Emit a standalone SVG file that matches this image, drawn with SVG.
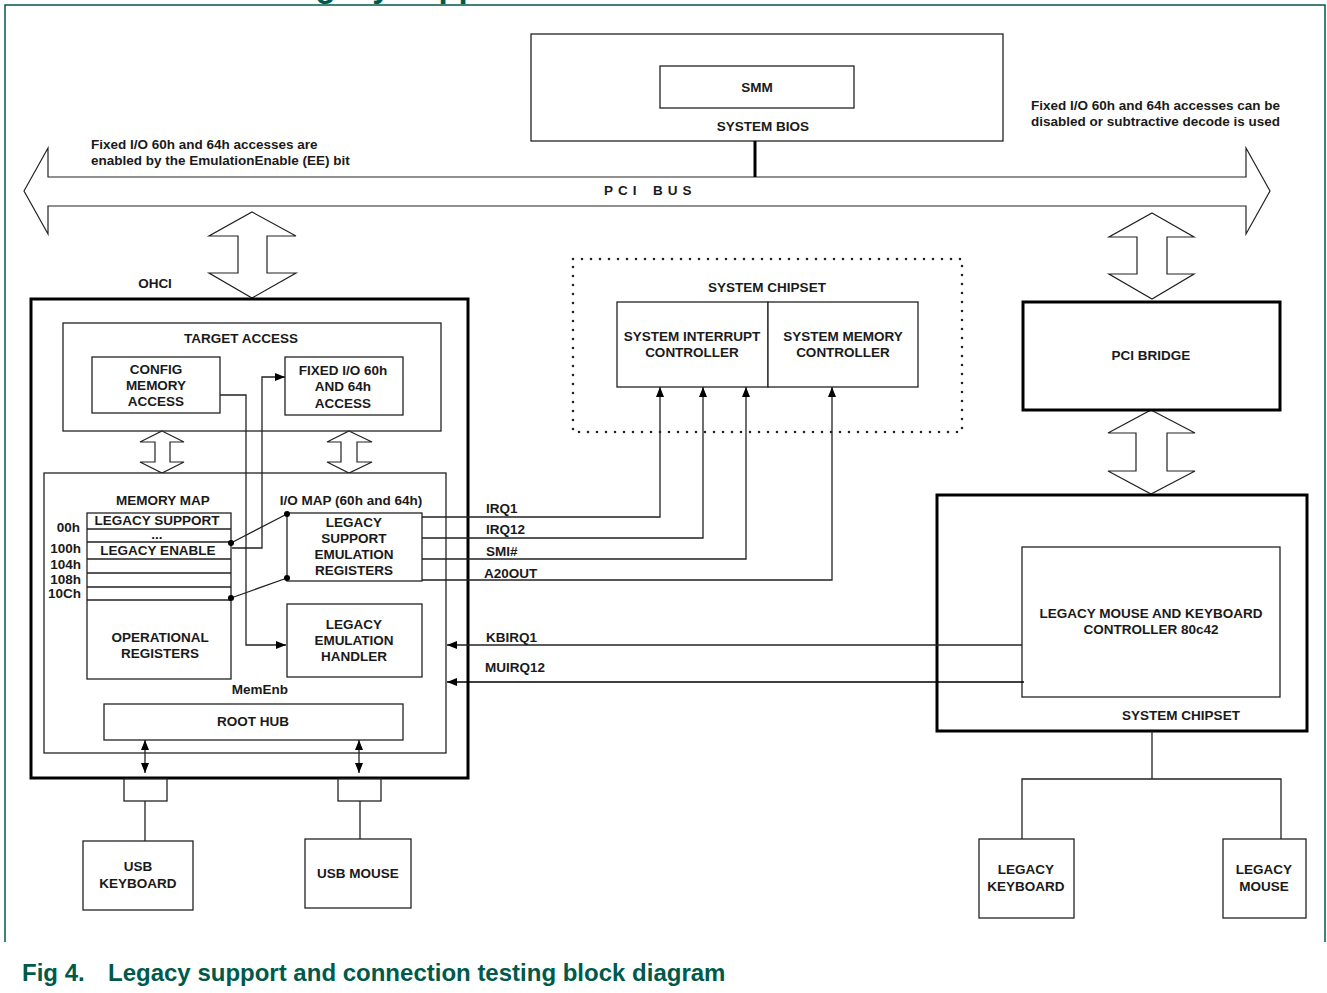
<svg xmlns="http://www.w3.org/2000/svg" width="1327" height="993" viewBox="0 0 1327 993">
<style>
.t{font-family:"Liberation Sans",Arial,sans-serif;font-weight:bold;font-size:13.5px;fill:#1a1a1a}
.m{text-anchor:middle}
.e{text-anchor:end}
.g{font-family:"Liberation Sans",Arial,sans-serif;font-weight:bold;fill:#005a4b}
.box{fill:#fff;stroke:#222;stroke-width:1.3}
.thick{fill:#fff;stroke:#000;stroke-width:3}
.ln{fill:none;stroke:#222;stroke-width:1.3}
.bl{fill:#fff;stroke:#222;stroke-width:1.2}
</style>
<defs>
<marker id="ah" viewBox="0 0 10 8" refX="10" refY="4" markerWidth="10" markerHeight="8" markerUnits="userSpaceOnUse" orient="auto-start-reverse">
<path d="M0,0 L10,4 L0,8 z" fill="#000"/>
</marker>
</defs>
<rect x="0" y="0" width="1327" height="993" fill="#fff"/>
<text class="g" x="277" y="-3" font-size="33">Legacy support</text>
<path d="M5,942 V5 H1325 V942" fill="none" stroke="#005a4b" stroke-width="1.5"/>

<g id="pci-bus">
<polygon class="bl" points="24,191 48,148 48,177 1246,177 1246,148 1270,191 1246,234 1246,206 48,206 48,234"/>
<text class="t" x="604" y="195" letter-spacing="5">PCI</text>
<text class="t" x="653" y="195" letter-spacing="5">BUS</text>
</g>
<g id="note-left">
<text class="t" x="91" y="149">Fixed I/O 60h and 64h accesses are</text>
<text class="t" x="91" y="165">enabled by the EmulationEnable (EE) bit</text>
</g>
<g id="note-right">
<text class="t" x="1031" y="110">Fixed I/O 60h and 64h accesses can be</text>
<text class="t" x="1031" y="126">disabled or subtractive decode is used</text>
</g>

<g id="system-bios">
<rect class="box" x="531" y="34" width="472" height="107"/>
<text class="t m" x="763" y="131">SYSTEM BIOS</text>
</g>
<g id="smm">
<rect class="box" x="660" y="66" width="194" height="42"/>
<text class="t m" x="757" y="92">SMM</text>
</g>

<g id="bus-arrows">
<polygon class="bl" points="252,212 296,236 267,236 267,273 296,273 252,298 209,273 238,273 238,236 209,236"/>
<polygon class="bl" points="1152,213 1194,237 1167,237 1167,274 1194,274 1152,299 1109,274 1137,274 1137,237 1109,237"/>
<polygon class="bl" points="1151,410 1195,433 1167,433 1167,471 1195,471 1151,494 1108,471 1136,471 1136,433 1108,433"/>
</g>

<g id="ohci">
<rect class="thick" x="31" y="299" width="437" height="479"/>
<text class="t m" x="155" y="288">OHCI</text>
</g>
<g id="target-access">
<rect class="box" x="63" y="323" width="378" height="108"/>
<text class="t m" x="241" y="343">TARGET ACCESS</text>
</g>
<g id="config-memory-access">
<rect class="box" x="92" y="357" width="128" height="56"/>
<text class="t m" x="156" y="374">CONFIG</text>
<text class="t m" x="156" y="390">MEMORY</text>
<text class="t m" x="156" y="406">ACCESS</text>
</g>
<g id="fixed-io">
<rect class="box" x="285" y="357" width="118" height="58"/>
<text class="t m" x="343" y="375">FIXED I/O 60h</text>
<text class="t m" x="343" y="391">AND 64h</text>
<text class="t m" x="343" y="408">ACCESS</text>
</g>
<g id="small-arrows">
<polygon class="bl" points="162,431 184,442 170,442 170,462 184,462 162,473 140,462 155,462 155,442 140,442"/>
<polygon class="bl" points="349,431 372,442 357,442 357,462 372,462 349,473 327,462 341,462 341,442 327,442"/>
</g>
<g id="ohci-core">
<rect class="box" x="44" y="473" width="402" height="280"/>
<text class="t m" x="163" y="505">MEMORY MAP</text>
<text class="t m" x="351" y="505">I/O MAP (60h and 64h)</text>
<text class="t m" x="260" y="694">MemEnb</text>
</g>
<g id="memory-map">
<rect class="box" x="87" y="513" width="144" height="166"/>
<path class="ln" d="M87,529 H231 M87,542 H231 M87,559 H231 M87,573 H231 M87,587 H231 M87,600 H231"/>
<text class="t m" x="157" y="525">LEGACY SUPPORT</text>
<text class="t m" x="157" y="539" font-size="11">...</text>
<text class="t m" x="158" y="555">LEGACY ENABLE</text>
<text class="t e" x="80" y="532">00h</text>
<text class="t e" x="81" y="553">100h</text>
<text class="t e" x="81" y="569">104h</text>
<text class="t e" x="81" y="584">108h</text>
<text class="t e" x="81" y="598">10Ch</text>
<text class="t m" x="160" y="642">OPERATIONAL</text>
<text class="t m" x="160" y="658">REGISTERS</text>
</g>
<g id="legacy-support-regs">
<rect class="box" x="287" y="513" width="135" height="68"/>
<text class="t m" x="354" y="527">LEGACY</text>
<text class="t m" x="354" y="543">SUPPORT</text>
<text class="t m" x="354" y="559">EMULATION</text>
<text class="t m" x="354" y="575">REGISTERS</text>
</g>
<g id="legacy-emulation-handler">
<rect class="box" x="287" y="604" width="135" height="73"/>
<text class="t m" x="354" y="629">LEGACY</text>
<text class="t m" x="354" y="645">EMULATION</text>
<text class="t m" x="354" y="661">HANDLER</text>
</g>
<g id="root-hub">
<rect class="box" x="104" y="704" width="299" height="36"/>
<text class="t m" x="253" y="726">ROOT HUB</text>
</g>
<g id="ports">
<rect class="box" x="124" y="779" width="43" height="22"/>
<rect class="box" x="338" y="779" width="43" height="22"/>
</g>
<g id="usb-keyboard">
<rect class="box" x="83" y="841" width="110" height="69"/>
<text class="t m" x="138" y="871">USB</text>
<text class="t m" x="138" y="888">KEYBOARD</text>
</g>
<g id="usb-mouse">
<rect class="box" x="305" y="839" width="106" height="69"/>
<text class="t m" x="358" y="878">USB MOUSE</text>
</g>

<g id="system-chipset-top">
<rect x="573" y="259" width="389" height="173" fill="none" stroke="#222" stroke-width="2.6" stroke-dasharray="0 9" stroke-linecap="round"/>
<text class="t m" x="767" y="292">SYSTEM CHIPSET</text>
</g>
<g id="interrupt-controller">
<rect class="box" x="617" y="302" width="151" height="85"/>
<text class="t m" x="692" y="341">SYSTEM INTERRUPT</text>
<text class="t m" x="692" y="357">CONTROLLER</text>
</g>
<g id="memory-controller">
<rect class="box" x="768" y="302" width="150" height="85"/>
<text class="t m" x="843" y="341">SYSTEM MEMORY</text>
<text class="t m" x="843" y="357">CONTROLLER</text>
</g>

<g id="pci-bridge">
<rect class="thick" x="1023" y="302" width="257" height="108"/>
<text class="t m" x="1151" y="360">PCI BRIDGE</text>
</g>
<g id="system-chipset-right">
<rect class="thick" x="937" y="495" width="370" height="236"/>
<text class="t m" x="1181" y="720">SYSTEM CHIPSET</text>
</g>
<g id="kbc-80c42">
<rect class="box" x="1022" y="547" width="258" height="150"/>
<text class="t m" x="1151" y="618">LEGACY MOUSE AND KEYBOARD</text>
<text class="t m" x="1151" y="634">CONTROLLER 80c42</text>
</g>
<g id="legacy-keyboard">
<rect class="box" x="979" y="839" width="95" height="79"/>
<text class="t m" x="1026" y="874">LEGACY</text>
<text class="t m" x="1026" y="891">KEYBOARD</text>
</g>
<g id="legacy-mouse">
<rect class="box" x="1223" y="839" width="83" height="79"/>
<text class="t m" x="1264" y="874">LEGACY</text>
<text class="t m" x="1264" y="891">MOUSE</text>
</g>

<g id="connectors">
<line x1="755" y1="141" x2="755" y2="177" stroke="#000" stroke-width="3"/>
<polyline class="ln" points="220,395 246,395 246,645 286,645" marker-end="url(#ah)"/>
<polyline class="ln" points="232,548 262,548 262,377 285,377" marker-end="url(#ah)"/>
<path class="ln" d="M231,543 L287,514 M231,598 L287,578"/>
<circle cx="231" cy="543" r="3" fill="#000"/>
<circle cx="287" cy="514" r="3" fill="#000"/>
<circle cx="231" cy="598" r="3" fill="#000"/>
<circle cx="287" cy="578" r="3" fill="#000"/>
<polyline class="ln" points="422,517 660,517 660,387" marker-end="url(#ah)"/>
<polyline class="ln" points="422,538 703,538 703,387" marker-end="url(#ah)"/>
<polyline class="ln" points="422,559 746,559 746,387" marker-end="url(#ah)"/>
<polyline class="ln" points="422,580 832,580 832,387" marker-end="url(#ah)"/>
<text class="t" x="486" y="513">IRQ1</text>
<text class="t" x="486" y="534">IRQ12</text>
<text class="t" x="486" y="556">SMI#</text>
<text class="t" x="484" y="578">A20OUT</text>
<line class="ln" x1="1022" y1="645" x2="447" y2="645" marker-end="url(#ah)"/>
<line x1="1024" y1="682" x2="447" y2="682" stroke="#000" stroke-width="1.6" marker-end="url(#ah)"/>
<text class="t" x="486" y="642">KBIRQ1</text>
<text class="t" x="485" y="672">MUIRQ12</text>
<line class="ln" x1="145" y1="740" x2="145" y2="773" marker-start="url(#ah)" marker-end="url(#ah)"/>
<line class="ln" x1="359" y1="740" x2="359" y2="773" marker-start="url(#ah)" marker-end="url(#ah)"/>
<line class="ln" x1="145" y1="801" x2="145" y2="841"/>
<line class="ln" x1="360" y1="801" x2="360" y2="839"/>
<path class="ln" d="M1152,731 V779 M1022,839 V779 H1281 V839"/>
</g>

<g id="caption">
<text class="g" x="22" y="981" font-size="24">Fig 4.</text>
<text class="g" x="108" y="981" font-size="24">Legacy support and connection testing block diagram</text>
</g>
</svg>
